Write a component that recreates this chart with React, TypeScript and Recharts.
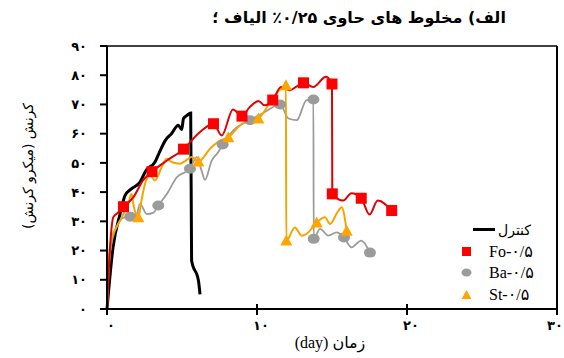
import { LineChart, Line, XAxis, YAxis, ReferenceLine } from 'recharts'

// strain (micro-strain) vs time (day), 0.25% fibre mixes
const xTicks = [0, 10, 20, 30]
const yTicks = [0, 10, 20, 30, 40, 50, 60, 70, 80, 90]

const controlDays = [0, 0.4, 0.87, 1.2, 1.6, 2.2, 2.6, 3.2, 3.5, 3.9, 4.3, 4.75, 4.98, 5.1, 5.35, 5.58, 5.64, 6.1, 6.2]
const controlStrain = [0, 21, 32.5, 38.8, 41, 43.4, 47.4, 50.3, 53.7, 57.8, 60, 62.9, 61.4, 65.2, 66.3, 67.1, 16.6, 9.6, 5]

const foDays = [0, 0.2, 0.42, 0.75, 1.1, 1.75, 2.4, 3.0, 4.0, 5.1, 6.2, 7.1, 7.65, 8.4, 9.0, 9.5, 10.1, 10.5, 11.05, 11.6, 12.2, 12.6, 13.1, 13.75, 14.6, 15.0, 15.02, 15.75, 16.3, 16.95, 17.5, 18.05, 18.98]
const foStrain = [0, 21, 31.4, 33, 35, 38.2, 44, 47, 50.8, 54.7, 60.6, 63.4, 59.4, 68.3, 66, 69, 71.2, 69.7, 71.5, 76, 74.9, 76, 77.4, 76, 79.5, 77, 39.4, 37.1, 39.6, 37.9, 32.3, 37.1, 33.7]
const foMarkers = [1.1, 3.0, 5.1, 7.1, 9.0, 11.05, 13.1, 15.0, 15.02, 16.95, 18.98]

const baDays = [0, 0.2, 0.53, 0.87, 1.2, 1.55, 1.87, 2.2, 2.65, 3.1, 3.42, 4.0, 4.65, 5.53, 5.98, 6.3, 6.53, 6.98, 7.42, 7.71, 8.42, 9.53, 10.53, 11.53, 12.1, 12.65, 13.3, 13.76, 13.78, 14.2, 14.76, 15.3, 15.8, 16.3, 16.95, 17.53]
const baStrain = [0, 18.8, 26.8, 30.2, 31.4, 31.6, 30.2, 36, 32.5, 33, 35.4, 39.4, 45.1, 48, 52, 47.4, 44.2, 50.8, 53.7, 56.3, 61.1, 64.6, 67.4, 70, 65.2, 64.6, 71.5, 71.7, 24, 27.4, 25.1, 26.2, 24.5, 21.1, 23.4, 19.3]
const baMarkers = [1.55, 3.42, 5.53, 7.71, 9.53, 11.53, 13.76, 13.78, 15.8, 17.53]

const stDays = [0, 0.1, 0.31, 0.64, 0.98, 1.42, 1.64, 1.75, 2.09, 2.3, 2.53, 2.87, 3.2, 3.64, 3.98, 4.31, 4.87, 5.2, 5.64, 6.09, 6.9, 7.5, 8.09, 9.0, 10.09, 10.98, 11.93, 11.95, 12.53, 12.98, 13.42, 13.98, 14.53, 14.87, 15.36, 15.64, 15.98]
const stStrain = [0, 15.4, 24.5, 28, 31.4, 36, 39.4, 36, 31.4, 37.1, 42.8, 45.7, 44, 48.5, 51.4, 50.3, 49.7, 50.6, 52, 50.5, 55, 57.5, 58.8, 63.4, 65.2, 71.5, 76.6, 23.4, 27.9, 25.1, 26.2, 29.6, 31.4, 29.1, 33.1, 34.8, 26.8]
const stMarkers = [2.09, 6.09, 8.09, 10.09, 11.93, 11.95, 13.98, 15.98]

const FA_DIGITS = '۰۱۲۳۴۵۶۷۸۹'
const fa = (v: number | string) => String(v).replace(/\d/g, (d) => FA_DIGITS[Number(d)])

function toSeries(days: number[], strain: number[], marks: number[] = []) {
  return days.map((x, i) => ({ x, y: strain[i], m: marks.includes(x) }))
}

const RED = '#FF0000'
const RED_LINE = '#E00000'
const GRAY = '#9B9B9B'
const ORANGE = '#FFA500'
const ORANGE_LINE = '#F5A400'

const squareDot = (p: any) =>
  p.payload.m ? (
    <rect key={p.index} x={p.cx - 5.5} y={p.cy - 5.5} width={11} height={11} fill={RED} />
  ) : (
    <g key={p.index} />
  )

const circleDot = (p: any) =>
  p.payload.m ? <ellipse key={p.index} cx={p.cx} cy={p.cy} rx={6} ry={5} fill={GRAY} /> : <g key={p.index} />

const triangleDot = (p: any) =>
  p.payload.m ? (
    <polygon
      key={p.index}
      points={`${p.cx},${p.cy - 6} ${p.cx - 6},${p.cy + 5} ${p.cx + 6},${p.cy + 5}`}
      fill={ORANGE}
    />
  ) : (
    <g key={p.index} />
  )

const XTick = ({ x, y, payload }: any) => (
  <g>
    <line x1={x} x2={x} y1={y - 5} y2={y + 6} stroke="#000" strokeWidth={2} />
    <text
      x={payload.value === 30 ? x - 2 : x + 4}
      y={y + 21}
      textAnchor="middle"
      fontSize={13}
      fontWeight="bold"
      fill="#000"
      fontFamily="DejaVu Sans"
    >
      {fa(payload.value)}
    </text>
  </g>
)

const legendRow = { display: 'flex', alignItems: 'center', height: 21.5 } as const

const legendItems = [
  { label: 'Fo-۰/۵', icon: <rect x={3} y={3} width={9} height={9} fill={RED} /> },
  { label: 'Ba-۰/۵', icon: <ellipse cx={7.5} cy={7.5} rx={5} ry={4} fill={GRAY} /> },
  { label: 'St-۰/۵', icon: <polygon points="7.5,3 2.5,12 12.5,12" fill={ORANGE} /> },
]

export default function App() {
  return (
    <div style={{ position: 'relative', width: 564, height: 358, background: '#fff' }}>
      <style>{`body{margin:0}`}</style>
      <LineChart width={564} height={358} margin={{ top: 46, right: 7, bottom: 19, left: 47 }}>
        <XAxis
          type="number"
          dataKey="x"
          domain={[0, 30]}
          ticks={xTicks}
          interval={0}
          height={30}
          axisLine={{ stroke: '#000', strokeWidth: 2 }}
          tickLine={false}
          tickSize={0}
          tickMargin={0}
          tick={<XTick />}
          allowDuplicatedCategory={false}
        />
        <YAxis
          type="number"
          domain={[0, 90]}
          ticks={yTicks}
          interval={0}
          width={60}
          axisLine={{ stroke: '#000', strokeWidth: 2 }}
          tickLine={{ stroke: '#000', strokeWidth: 2 }}
          tickSize={7}
          tickMargin={13}
          tickFormatter={(v) => fa(v)}
          tick={{ fontSize: 13, fontWeight: 'bold', fill: '#000', fontFamily: 'DejaVu Sans' }}
        />
        <ReferenceLine y={90} stroke="#000" strokeWidth={1.5} />
        <ReferenceLine x={30} stroke="#000" strokeWidth={2} />
        <Line
          data={toSeries(controlDays, controlStrain)}
          dataKey="y"
          type="monotone"
          stroke="#000"
          strokeWidth={3}
          dot={false}
          isAnimationActive={false}
        />
        <Line
          data={toSeries(baDays, baStrain, baMarkers)}
          dataKey="y"
          type="monotone"
          stroke={GRAY}
          strokeWidth={1.8}
          dot={circleDot}
          isAnimationActive={false}
        />
        <Line
          data={toSeries(stDays, stStrain, stMarkers)}
          dataKey="y"
          type="monotone"
          stroke={ORANGE_LINE}
          strokeWidth={2}
          dot={triangleDot}
          isAnimationActive={false}
        />
        <Line
          data={toSeries(foDays, foStrain, foMarkers)}
          dataKey="y"
          type="monotone"
          stroke={RED_LINE}
          strokeWidth={2}
          dot={squareDot}
          isAnimationActive={false}
        />
      </LineChart>

      {/* Title */}
      <div
        style={{
          position: 'absolute',
          left: 159,
          top: 8,
          width: 400,
          textAlign: 'center',
          direction: 'rtl',
          fontFamily: '"DejaVu Sans"',
          fontWeight: 'bold',
          fontSize: 16,
          color: '#000',
        }}
      >
        الف) مخلوط های حاوی ۰/۲۵٪ الیاف ؛
      </div>

      {/* Y label */}
      <div
        style={{
          position: 'absolute',
          left: -72,
          top: 158,
          width: 200,
          textAlign: 'center',
          direction: 'rtl',
          transform: 'rotate(-90deg)',
          fontFamily: '"DejaVu Sans"',
          fontSize: 14,
          color: '#000',
        }}
      >
        کرنش (میکرو کرنش)
      </div>

      {/* X label */}
      <div
        style={{
          position: 'absolute',
          left: 230,
          top: 333,
          width: 200,
          textAlign: 'center',
          direction: 'rtl',
          fontFamily: '"Liberation Serif", "DejaVu Sans", serif',
          fontSize: 16,
          color: '#000',
        }}
      >
        زمان (day)
      </div>

      {/* Legend */}
      <div
        style={{
          position: 'absolute',
          left: 455,
          top: 219,
          fontFamily: '"Liberation Serif", "DejaVu Sans", serif',
          fontSize: 16,
          color: '#000',
        }}
      >
        <div style={legendRow}>
          <span style={{ display: 'inline-block', width: 22, height: 3, background: '#000', marginLeft: 18, marginRight: 3 }} />
          <span style={{ fontFamily: '"DejaVu Sans"', fontSize: 14 }}>کنترل</span>
        </div>
        {legendItems.map((r) => (
          <div key={r.label} style={legendRow}>
            <svg width={15} height={15} style={{ marginLeft: 4, marginRight: 15 }}>
              {r.icon}
            </svg>
            <span style={{ direction: 'ltr' }}>{r.label}</span>
          </div>
        ))}
      </div>
    </div>
  )
}
